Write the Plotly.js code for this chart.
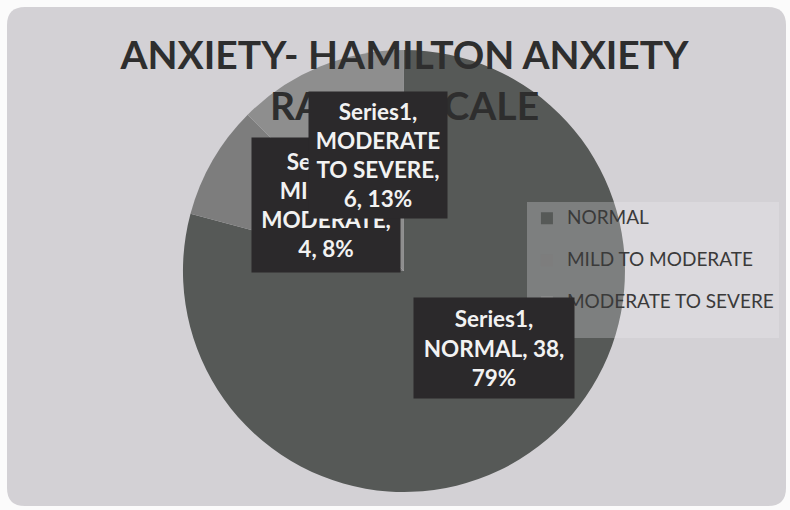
<!DOCTYPE html>
<html>
<head>
<meta charset="utf-8">
<script src="https://cdn.plot.ly/plotly-3.0.1.min.js"></script>
<style>
  html, body { margin: 0; padding: 0; background: #ffffff; }
  #chart { width: 790px; height: 510px; }
</style>
</head>
<body>
<div id="chart"></div>
<script>
// Hamilton Anxiety Rating Scale: distribution of patients by severity
const seriesName = 'Series1';
const categories = ['NORMAL', 'MILD TO MODERATE', 'MODERATE TO SEVERE'];
const counts = [38, 4, 6];
const sliceColors = ['#565957', '#7d7d7d', '#8e8e8e'];

const total = counts.reduce((a, b) => a + b, 0);
const percents = counts.map(v => Math.round(100 * v / total));

// greedy word wrap for the data-label boxes
function wrap(text, maxChars) {
  const words = text.split(' ');
  const lines = [];
  let cur = '';
  words.forEach(w => {
    const next = cur ? cur + ' ' + w : w;
    if (next.length > maxChars && cur) { lines.push(cur); cur = w; }
    else cur = next;
  });
  if (cur) lines.push(cur);
  return lines.join('<br>');
}

// label box placement (paper coords), box size and wrap width per slice
const labelBoxes = [
  { x: 0.625, y: 0.318, w: 160, h: 100, wrapAt: 11 },
  { x: 0.413, y: 0.598, w: 148, h: 134, wrapAt: 11 },
  { x: 0.479, y: 0.696, w: 138, h: 126, wrapAt: 10 }
];

const labelAnnotations = categories.map((c, i) => ({
  xref: 'paper', yref: 'paper',
  x: labelBoxes[i].x, y: labelBoxes[i].y,
  xanchor: 'center', yanchor: 'middle',
  width: labelBoxes[i].w, height: labelBoxes[i].h,
  align: 'center', valign: 'middle',
  showarrow: false,
  bgcolor: '#2b292b',
  borderpad: 0,
  text: wrap(seriesName + ', ' + c + ', ' + counts[i] + ', ' + percents[i] + '%', labelBoxes[i].wrapAt),
  font: { family: 'Lato, "Open Sans", sans-serif', size: 22.5, color: '#f2f2f2', weight: 700 }
}));

// legend entries: a blank second line opens up the row spacing
const legendLabels = categories.map(c => '<span style="font-size:19px">' + c + '</span><br> ');

// rounded background card, in paper units
function roundedRect(x0, y0, x1, y1, rpx, W, H) {
  const rx = rpx / W, ry = rpx / H;
  return `M${x0 + rx},${y1} L${x1 - rx},${y1} Q${x1},${y1} ${x1},${y1 - ry} ` +
         `L${x1},${y0 + ry} Q${x1},${y0} ${x1 - rx},${y0} L${x0 + rx},${y0} ` +
         `Q${x0},${y0} ${x0},${y0 + ry} L${x0},${y1 - ry} Q${x0},${y1} ${x0 + rx},${y1} Z`;
}
const W = 790, H = 510;

const trace = {
  type: 'pie',
  labels: legendLabels,
  values: counts,
  sort: false,
  direction: 'clockwise',
  rotation: 0,
  textinfo: 'none',
  hoverinfo: 'skip',
  marker: { colors: sliceColors, line: { width: 0 } },
  domain: { x: [0.2316, 0.7911], y: [0.0353, 0.902] }
};

const layout = {
  width: W, height: H,
  margin: { l: 0, r: 0, t: 0, b: 0 },
  paper_bgcolor: '#fbfbfb',
  title: {
    text: 'ANXIETY- HAMILTON ANXIETY<br>RATING SCALE',
    x: 0.512, xanchor: 'center', xref: 'paper',
    y: 1 - 69 / H, yanchor: 'top', yref: 'container',
    font: { family: 'Lato, "Open Sans", sans-serif', size: 39, color: '#2e2e2e', weight: 700 }
  },
  showlegend: true,
  legend: {
    x: 0.667, y: 1 - 202 / H, xanchor: 'left', yanchor: 'top',
    bgcolor: 'rgba(245,244,246,0.25)',
    borderwidth: 0,
    valign: 'top',
    font: { family: 'Lato, "Open Sans", sans-serif', size: 15, color: '#3a3a3a' }
  },
  shapes: [{
    type: 'path', xref: 'paper', yref: 'paper', layer: 'below',
    path: roundedRect(7 / W, 1 - 506 / H, 786 / W, 1 - 7 / H, 18, W, H),
    fillcolor: '#d3d1d5', line: { width: 0 }
  }],
  annotations: labelAnnotations
};

Plotly.newPlot('chart', [trace], layout, { displayModeBar: false, staticPlot: true });
</script>
</body>
</html>
